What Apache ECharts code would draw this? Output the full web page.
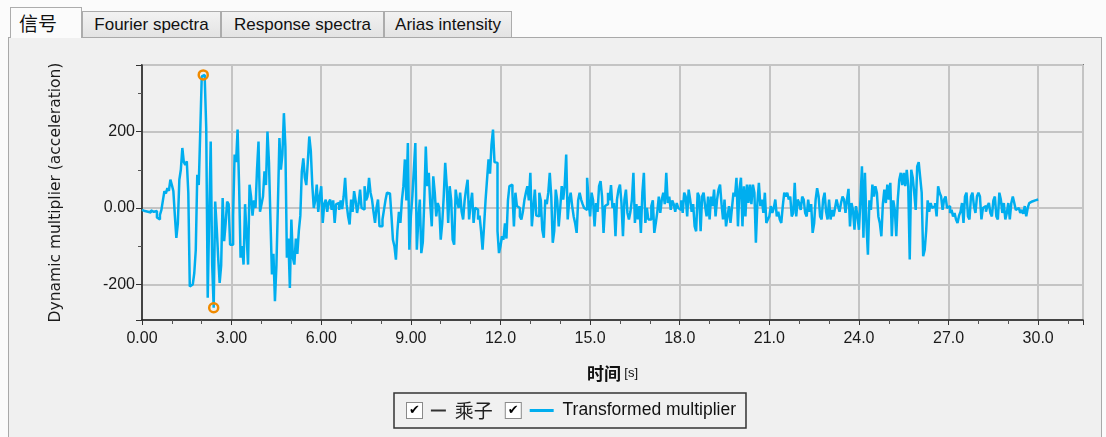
<!DOCTYPE html>
<html>
<head>
<meta charset="utf-8">
<script src="https://cdn.jsdelivr.net/npm/echarts@6/dist/echarts.min.js"></script>
<style>
  html,body{margin:0;padding:0;background:#fbfbfb;width:1106px;height:437px;overflow:hidden;font-family:"Liberation Sans",Arial,sans-serif;}
  #panel{position:absolute;left:8px;top:37px;width:1092px;height:410px;background:#f0f0f0;border:1px solid #a9a9a9;}
  .tab{position:absolute;top:11px;height:26px;border:1px solid #acacac;border-bottom:none;background:linear-gradient(#f2f2f2,#e3e3e3);font-size:17px;line-height:26px;color:#111;text-align:center;box-sizing:border-box;white-space:nowrap;}
  .tab.active{top:7px;height:31px;background:#fbfbfb;font-family:"Noto Sans CJK SC",sans-serif;font-size:19px;line-height:30px;z-index:2;text-align:left;padding-left:8px;}
  #chart{position:absolute;left:0;top:0;width:1106px;height:437px;}
</style>
</head>
<body>
<div id="panel"></div>
<div class="tab active" style="left:10px;width:72px;">信号</div>
<div class="tab" style="left:82px;width:139px;">Fourier spectra</div>
<div class="tab" style="left:221px;width:163px;">Response spectra</div>
<div class="tab" style="left:384px;width:128px;">Arias intensity</div>
<div id="chart"></div>
<script>
// ---- data ----
const dt = 0.05; // sample step in seconds
const accel = [
  // 0 s
  -5,-8,-6,-10,-8,-12,-6,-10,-15,-8,-25,-30,-18,-5,20,44,38,52,45,74,
  // 1 s
  60,44,-20,-78,-40,74,100,157,120,113,122,40,-205,-200,-205,-170,-110,87,60,200,
  // 2 s
  344,348,340,210,-235,-20,174,-150,-261,17,-50,-130,-196,-150,26,-87,-40,17,10,-96,
  // 3 s
  -96,-20,140,120,205,60,-130,-100,-148,10,-70,-148,61,30,-20,20,0,100,174,-10,
  // 4 s
  10,30,96,60,200,120,-30,-174,-120,-244,-150,10,183,100,140,248,160,-130,-80,-209,
  // 5 s
  -30,-130,-148,-80,-120,-60,-20,96,130,80,60,120,187,150,61,0,20,61,-10,30,
  // 6 s
  57,-39,10,22,-10,15,22,-5,20,-39,10,13,-5,20,-3,30,79,10,-22,-43,
  // 7 s
  22,-10,44,20,-13,10,48,0,-4,57,20,30,79,40,22,-10,-39,0,22,-48,
  // 8 s
  -48,-30,-5,20,40,38,40,-20,-83,-100,-135,-60,-10,-39,20,57,127,20,170,-109,
  // 9 s
  -22,30,100,170,-109,-30,22,-118,-90,20,161,57,92,10,-48,83,40,-22,13,0,
  // 10 s
  -83,-40,30,118,60,-39,57,20,-83,-96,48,20,0,40,-10,-30,20,50,74,-30,
  // 11 s
  10,40,-39,0,-4,-30,-20,-60,-109,-48,20,74,127,90,166,205,120,118,-60,-118,
  // 12 s
  -100,-74,-83,-40,-80,20,57,61,40,-48,40,5,0,-22,-30,-10,20,40,57,20,
  // 13 s
  92,-48,0,48,-20,-22,40,20,-57,-78,22,10,40,92,30,-91,-60,48,20,-48,
  // 14 s
  0,57,22,60,140,-30,20,40,5,-22,-40,-65,20,40,22,10,0,-5,79,20,
  // 15 s
  -22,40,20,-48,13,-10,57,70,30,-65,5,10,40,20,60,0,13,-74,22,48,
  // 16 s
  61,13,-74,22,48,-13,-30,-10,22,92,-39,10,-30,5,-65,40,92,-39,0,-30,
  // 17 s
  -30,5,20,-65,-39,-10,30,-13,22,40,10,92,13,30,-5,20,10,-10,13,0,
  // 18 s
  -5,20,-13,40,30,-22,48,22,-10,10,-48,-61,40,30,-61,30,40,5,-22,30,
  // 19 s
  -30,30,5,48,-22,22,48,61,10,-30,22,-48,-22,5,-39,0,40,30,79,-48,
  // 20 s
  50,79,-48,57,-22,61,13,61,10,61,40,-91,13,66,5,22,-13,40,-39,-30,
  // 21 s
  -22,5,-13,0,22,-22,-10,-30,-39,5,40,30,40,22,30,-22,-13,66,-22,22,
  // 22 s
  13,-5,30,22,-13,-22,22,-10,10,-65,-40,22,52,30,-22,-30,22,40,-10,-30,
  // 23 s
  22,-30,-5,-22,0,22,5,-10,13,30,22,-13,22,50,-48,13,-5,-57,5,-20,
  // 24 s
  -57,20,109,-78,92,-40,-122,20,-5,61,30,57,40,-22,-40,-74,10,48,13,61,
  // 25 s
  22,66,-74,20,-5,-74,22,74,92,60,92,57,100,57,-135,100,80,40,-5,109,
  // 26 s
  120,80,40,-126,-110,-60,20,-10,13,0,5,13,-22,57,40,30,-5,22,30,0,
  // 27 s
  5,-13,-5,-22,-13,-30,-39,-20,-10,13,-39,30,40,-22,-30,30,40,5,-13,30,
  // 28 s
  40,30,-30,0,5,-10,5,13,-13,-22,20,30,-22,-30,40,22,-13,13,-30,-13,
  // 29 s
  13,-30,13,30,13,-5,0,-5,-13,-5,-15,5,-22,0,13,17,13,20,17,22,
  // 30 s
  22
];
const seriesNames = ['乘子', 'Transformed multiplier'];
const xTickLabels = {0:'0.00',3:'3.00',6:'6.00',9:'9.00',12:'12.0',15:'15.0',18:'18.0',21:'21.0',24:'24.0',27:'27.0',30:'30.0'};
const yTickLabels = {'-200':'-200','0':'0.00','200':'200'};

const signal = accel.map((v, i) => [Math.round(i * dt * 100) / 100, v]);

const chart = echarts.init(document.getElementById('chart'), null, {renderer: 'canvas'});
const font = '"Liberation Sans", Arial, sans-serif';
chart.setOption({
  backgroundColor: 'transparent',
  animation: false,
  textStyle: {fontFamily: font},
  grid: {left: 142, top: 65, right: 23, bottom: 117, show: true, borderColor: '#1a1a1a', borderWidth: 1.5, backgroundColor: 'transparent'},
  xAxis: {
    type: 'value', min: 0, max: 31.5, interval: 3,
    name: '{a|时间} {b|[s]}', nameLocation: 'middle', nameGap: 45,
    nameTextStyle: {rich: {a: {fontFamily: '"Noto Sans CJK SC", sans-serif', fontSize: 17, color: '#111', fontWeight: 'bold'}, b: {fontSize: 13, color: '#111'}}},
    axisLine: {show: true, onZero: false, lineStyle: {color: '#1a1a1a', width: 1.5}},
    axisTick: {show: true, length: 5, lineStyle: {color: '#333'}},
    minorTick: {show: true, splitNumber: 3, length: 4, lineStyle: {color: '#555'}},
    axisLabel: {fontSize: 16, color: '#1a1a1a', margin: 11, showMaxLabel: false, formatter: v => xTickLabels[v] !== undefined ? xTickLabels[v] : ''},
    splitLine: {show: true, lineStyle: {color: '#c4c4c4', width: 2}}
  },
  yAxis: {
    type: 'value', min: -293, max: 374, splitNumber: 3, minInterval: 200, maxInterval: 200,
    name: 'Dynamic multiplier (acceleration)', nameLocation: 'middle', nameGap: 78, nameRotate: 90,
    nameTextStyle: {fontSize: 15.5, color: '#1a1a1a', fontFamily: '"DejaVu Sans", sans-serif'},
    axisLine: {show: true, onZero: false, lineStyle: {color: '#1a1a1a', width: 1.5}},
    axisTick: {show: true, length: 6, lineStyle: {color: '#333'}},
    minorTick: {show: true, splitNumber: 2, length: 4, lineStyle: {color: '#555'}},
    axisLabel: {fontSize: 16, color: '#1a1a1a', margin: 7, showMinLabel: false, showMaxLabel: false, formatter: v => yTickLabels[String(v)] !== undefined ? yTickLabels[String(v)] : ''},
    splitLine: {show: true, lineStyle: {color: '#c4c4c4', width: 2}}
  },
  legend: {
    left: 394, top: 393,
    padding: [8, 10, 8, 8],
    itemGap: 8, itemWidth: 0, itemHeight: 0, icon: 'none',
    borderColor: '#333', borderWidth: 1.5, backgroundColor: 'transparent',
    selectedMode: false,
    data: seriesNames,
    formatter: name => name === seriesNames[0]
      ? '{cb|✔}  {ln1|}  {cj|' + name + '}'
      : '{cb|✔}  {ln2|}  {t|' + name + '}',
    textStyle: {
      fontSize: 16, color: '#111',
      rich: {
        cb: {width: 15, height: 15, lineHeight: 16, align: 'center', fontSize: 13, color: '#000', fontFamily: '"DejaVu Sans", sans-serif', backgroundColor: '#fff', borderColor: '#8a8a8a', borderWidth: 1},
        ln1: {width: 15, height: 2, backgroundColor: '#333'},
        ln2: {width: 24, height: 3, backgroundColor: '#00aeef'},
        cj: {fontSize: 19, color: '#222', fontFamily: '"Noto Sans CJK SC", sans-serif'},
        t: {fontSize: 17.5, color: '#111', fontFamily: '"Liberation Sans", Arial, sans-serif'}
      }
    }
  },
  series: [
    {name: seriesNames[0], type: 'line', data: [], showSymbol: false, lineStyle: {color: '#333'}, itemStyle: {color: '#333'}},
    {
      name: seriesNames[1], type: 'line', data: signal, step: 'end', showSymbol: false,
      lineStyle: {color: '#00aeef', width: 2.5}, itemStyle: {color: '#00aeef'},
      markPoint: {
        symbol: 'circle', symbolSize: 9,
        itemStyle: {color: 'rgba(0,0,0,0)', borderColor: '#ef8a00', borderWidth: 2.5},
        label: {show: false},
        data: [{type: 'max'}, {type: 'min'}]
      }
    }
  ]
});
</script>
</body>
</html>
